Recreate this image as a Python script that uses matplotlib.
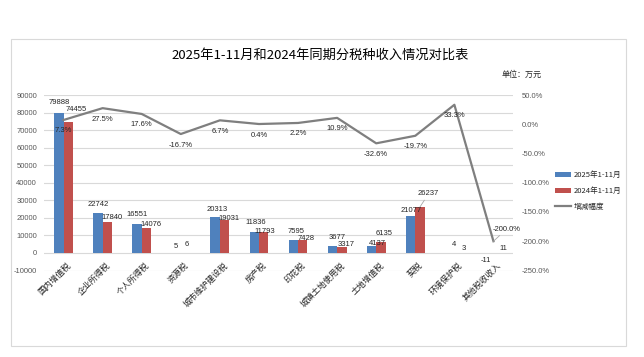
import matplotlib
matplotlib.use("Agg")
import matplotlib.pyplot as plt
from matplotlib.patches import Rectangle, Patch
from matplotlib.lines import Line2D
import numpy as np

plt.rcParams['font.family'] = ['Liberation Sans', 'Noto Sans CJK SC', 'DejaVu Sans']
plt.rcParams['axes.unicode_minus'] = False

categories = ['国内增值税', '企业所得税', '个人所得税', '资源税', '城市维护建设税', '房产税',
              '印花税', '城镇土地使用税', '土地增值税', '契税', '环境保护税', '其他税收收入']
values_2025 = [79888, 22742, 16551, 5, 20313, 11836, 7595, 3677, 4137, 21077, 4, -11]
values_2024 = [74455, 17840, 14076, 6, 19031, 11793, 7428, 3317, 6135, 26237, 3, 11]
growth_pct = [7.3, 27.5, 17.6, -16.7, 6.7, 0.4, 2.2, 10.9, -32.6, -19.7, 33.3, -200.0]

series_names = ['2025年1-11月', '2024年1-11月', '增减幅度']
title = '2025年1-11月和2024年同期分税种收入情况对比表'
unit = '单位：万元'

# styling: label offsets in pixels (dx, dy) relative to bar end
blue_off = [(0, 10), (0, 9), (0, 9), (0, 6), (2, 8), (1.5, 9.5), (3, 8.5), (5, 9), (5.5, 2), (1, 5), (4.5, 8.5), (-2.5, -8)]
red_off = [(8, 13), (5, 4.5), (5, 4), (1, 8.5), (4.5, 1), (1, 0.5), (3, 1.5), (4, 3), (3, 9), (8.5, 13), (5, 4.5), (5, 4.5)]

BLUE = '#4F81BD'
RED = '#C0504D'
GREY = '#7F7F7F'
TXT = '#262626'
TICK = '#595959'

W, H = 644, 357
fig = plt.figure(figsize=(W / 100, H / 100), dpi=100)
fig.patch.set_facecolor('white')

# outer frame
fig.patches.append(Rectangle((11 / W, 1 - 346 / H), (626 - 11) / W, (346 - 39) / H,
                             transform=fig.transFigure, fill=False, edgecolor='#D9D9D9', lw=0.8))

ax_l, ax_r, ax_t, ax_b = 44, 513, 95, 270.5
ax = fig.add_axes([ax_l / W, 1 - ax_b / H, (ax_r - ax_l) / W, (ax_b - ax_t) / H])
ax2 = ax.twinx()

n = len(categories)
x = np.arange(n)
bw = 0.24
ax.bar(x - bw / 2, values_2025, bw, color=BLUE, zorder=3)
ax.bar(x + bw / 2, values_2024, bw, color=RED, zorder=3)

ax.set_xlim(-0.5, n - 0.5)
ax.set_ylim(-10000, 90000)
ax.set_yticks(np.arange(-10000, 90001, 10000))
ax.yaxis.grid(True, color='#D9D9D9', lw=0.8, zorder=0)
ax.set_axisbelow(True)
ax.set_xticks([])
ax.tick_params(axis='y', length=0, labelsize=5.5, labelcolor=TICK, pad=5)
for s in ax.spines.values():
    s.set_visible(False)

ax2.plot(x, growth_pct, color=GREY, lw=1.6, zorder=4)
ax2.set_ylim(-250, 50)
ax2.set_yticks(np.arange(-250, 51, 50))
ax2.set_yticklabels([f'{v:.1f}%' for v in np.arange(-250, 51, 50)])
ax2.tick_params(axis='y', length=0, labelsize=5.5, labelcolor=TICK, pad=6)
for s in ax2.spines.values():
    s.set_visible(False)

# category labels below zero line
for i, c in enumerate(categories):
    ax.annotate(c, xy=(i, 0), xytext=(3, -8), textcoords='offset pixels',
                rotation=45, ha='right', va='top', rotation_mode='anchor',
                fontsize=6, color=TXT, family=['Noto Sans CJK SC', 'DejaVu Sans'])

# bar value labels
for i in range(n):
    v = values_2025[i]
    dx, dy = blue_off[i]
    ax.annotate(f'{v}', xy=(i - bw / 2, v), xytext=(dx, dy), textcoords='offset pixels',
                ha='center', va='center', fontsize=5.5, color=TXT, zorder=6)
    v = values_2024[i]
    dx, dy = red_off[i]
    if i == 9:
        ax.annotate(f'{v}', xy=(i + bw / 2, v), xytext=(dx, dy), textcoords='offset pixels',
                    ha='center', va='center', fontsize=5.5, color=TXT, zorder=6,
                    arrowprops=dict(arrowstyle='-', color='#A6A6A6', lw=0.6, shrinkA=0, shrinkB=0))
    else:
        ax.annotate(f'{v}', xy=(i + bw / 2, v), xytext=(dx, dy), textcoords='offset pixels',
                    ha='center', va='center', fontsize=5.5, color=TXT, zorder=6)

# growth labels
for i, g in enumerate(growth_pct):
    if i == n - 1:
        ax2.annotate(f'{g:.1f}%', xy=(i, g), xytext=(13, 12), textcoords='offset pixels',
                     ha='center', va='center', fontsize=5.5, color=TXT, zorder=6,
                     arrowprops=dict(arrowstyle='-', color='#A6A6A6', lw=0.6, shrinkA=0, shrinkB=0))
    else:
        ax2.annotate(f'{g:.1f}%', xy=(i, g), xytext=(0, -11), textcoords='offset pixels',
                     ha='center', va='center', fontsize=5.5, color=TXT, zorder=6)

# title and unit
fig.text(320 / W, 1 - 55 / H, title, ha='center', va='center', fontsize=9.5, color='black',
         family=['Noto Sans CJK SC', 'DejaVu Sans'])
fig.text(502 / W, 1 - 74 / H, unit, ha='left', va='center', fontsize=5.8, color=TXT,
         family=['Noto Sans CJK SC', 'DejaVu Sans'])

# legend
handles = [Patch(facecolor=BLUE, edgecolor='none'),
           Patch(facecolor=RED, edgecolor='none'),
           Line2D([0], [0], color=GREY, lw=1.6)]
leg = fig.legend(handles, series_names, loc='center left',
                 bbox_to_anchor=(555 / W, 1 - 191 / H), frameon=False,
                 prop={'family': ['Noto Sans CJK SC', 'DejaVu Sans'], 'size': 5.5},
                 handlelength=2.1, handleheight=0.7, handletextpad=0.3, labelspacing=1.0,
                 borderpad=0, borderaxespad=0)
for t in leg.get_texts():
    t.set_color(TXT)

fig.savefig('out.png', dpi=100, facecolor='white')
